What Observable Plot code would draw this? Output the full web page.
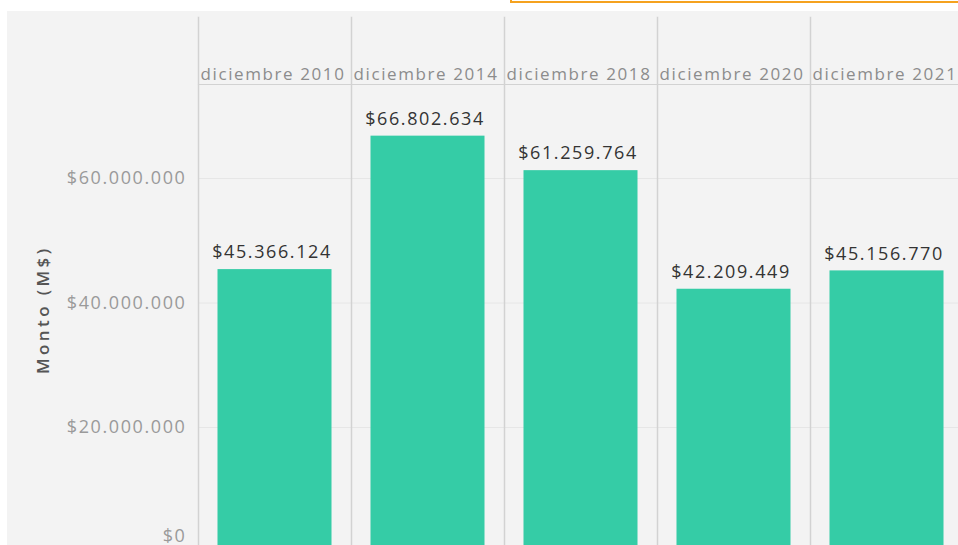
<!DOCTYPE html>
<html>
<head>
<meta charset="utf-8">
<script src="https://cdn.jsdelivr.net/npm/d3@7"></script>
<script src="https://cdn.jsdelivr.net/npm/@observablehq/plot@0.6"></script>
<style>
  html, body { margin: 0; padding: 0; background: #ffffff; overflow: hidden; width: 958px; height: 545px; }
  #panel { position: absolute; left: 7px; top: 11px; width: 951px; height: 534px; background: #f3f3f3; }
  #orange { position: absolute; left: 510px; top: -20px; width: 460px; height: 23px; border: 2px solid #f5a21f; box-sizing: border-box; }
  #chart { position: absolute; left: 0; top: 0; }
  #chart svg text { letter-spacing: 1.6px; }
  #chart svg g[aria-label="text"]:last-of-type text { letter-spacing: 3.4px; }
</style>
</head>
<body>
<div id="panel"></div>
<div id="orange"></div>
<div id="chart"></div>
<script>
const periods = ["diciembre 2010", "diciembre 2014", "diciembre 2018", "diciembre 2020", "diciembre 2021"];
const montos = [45366124, 66802634, 61259764, 42209449, 45156770];
const yTicks = [0, 20000000, 40000000, 60000000];
const yTitle = "Monto (M$)";

const data = periods.map((p, i) => ({period: p, monto: montos[i]}));
const loc = d3.formatLocale({decimal: ",", thousands: ".", grouping: [3], currency: ["$", ""]});
const fmt = loc.format("$,.0f");

const font = "'Open Sans', sans-serif";

const chart = Plot.plot({
  width: 958,
  height: 545,
  marginTop: 84,
  marginBottom: 0,
  marginLeft: 197,
  marginRight: -5,
  style: {background: "transparent", fontFamily: font, fontSize: "16px", overflow: "visible"},
  fx: {domain: periods, padding: 0, label: null},
  y: {domain: [0, 70000000], range: [551.5, 115.75]},
  marks: [
    Plot.gridY(yTicks, {stroke: "#e6e6e6", strokeOpacity: 1, strokeWidth: 1}),
    Plot.barY(data, {fx: "period", y: "monto", fill: "#35cca6", insetLeft: 19.5, insetRight: 19.5}),
    Plot.text(data, {fx: "period", y: "monto", text: d => fmt(d.monto), dy: -17, dx: -3, fill: "#333333", fontSize: 18, frameAnchor: "middle"}),
    Plot.frame({anchor: "left", stroke: "#d2d2d2", strokeWidth: 1.5, strokeOpacity: 1, insetTop: -67}),
    Plot.frame({anchor: "top", stroke: "#d2d2d2", strokeWidth: 1.2, strokeOpacity: 1}),
    Plot.axisFx({anchor: "top", tickSize: 0, tickPadding: 5, fontSize: 17, fill: "#8c8c8c", label: null, dx: -2}),
    Plot.axisY(yTicks.filter(t => t > 0), {anchor: "left", tickSize: 0, tickPadding: 12, tickFormat: fmt, fontSize: 18, fill: "#9a9a9a", label: null}),
    Plot.axisY([0], {anchor: "left", tickSize: 0, tickPadding: 12, tickFormat: fmt, fontSize: 18, fill: "#9a9a9a", label: null, dy: -16}),
    Plot.text([yTitle], {frameAnchor: "left", text: d => d, rotate: -90, dx: -155, dy: 59, fontSize: 17, fontWeight: 600, fill: "#555555", facet: "super"})
  ]
});
document.getElementById("chart").appendChild(chart);
</script>
</body>
</html>
